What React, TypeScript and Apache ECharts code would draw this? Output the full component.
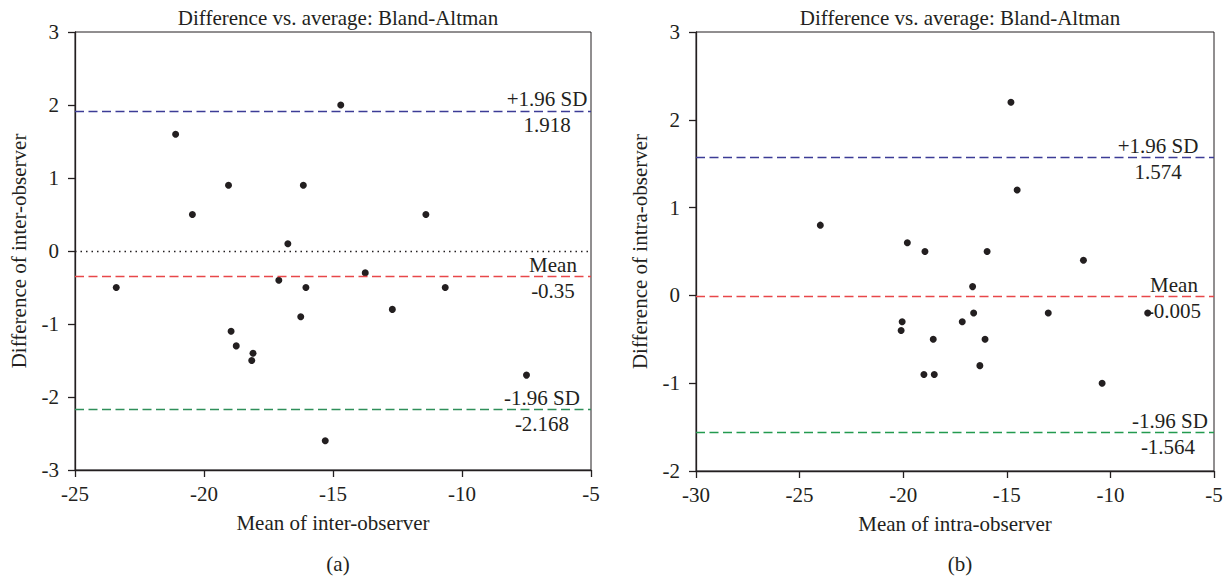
import React, { useEffect, useRef } from "react";
import * as echarts from "echarts";

// (a) inter-observer
const interMean = [-23.4, -21.1, -20.45, -19.05, -16.75, -16.15, -17.1, -16.05, -14.7, -11.4, -13.75, -10.65, -18.95, -18.75, -18.1, -18.15, -16.25, -12.7, -7.5, -15.3];
const interDiff = [-0.5, 1.6, 0.5, 0.9, 0.1, 0.9, -0.4, -0.5, 2.0, 0.5, -0.3, -0.5, -1.1, -1.3, -1.4, -1.5, -0.9, -0.8, -1.7, -2.6];
const interLimits = [1.918, -0.35, -2.168];

// (b) intra-observer
const intraMean = [-24.0, -19.8, -18.95, -14.8, -14.5, -15.95, -11.3, -16.65, -20.05, -20.1, -19.0, -18.5, -16.6, -13.0, -8.2, -17.15, -18.55, -16.05, -16.3, -10.4];
const intraDiff = [0.8, 0.6, 0.5, 2.2, 1.2, 0.5, 0.4, 0.1, -0.3, -0.4, -0.9, -0.9, -0.2, -0.2, -0.2, -0.3, -0.5, -0.5, -0.8, -1.0];
const intraLimits = [1.574, -0.005, -1.564];

const limitNames = ["+1.96 SD", "Mean", "-1.96 SD"];
const interRangeX = [-25, -5];
const intraRangeX = [-30, -5];
const interRangeY = [-3, 3];
const intraRangeY = [-2, 3];

const FONT = "Liberation Serif";
const FS = 21;
const INK = "#231f20";

export default function App() {
  const ref = useRef<HTMLDivElement>(null);
  useEffect(() => {
    if (!ref.current) return;
    const chart = echarts.init(ref.current, null, { renderer: "svg" });
    const txt = { fontFamily: FONT, fontSize: FS, color: INK };

    const limitLines = (limits: number[], colors: string[], dists: number[][]) => {
      const data: any[] = [];
      limits.forEach((v, i) => {
        data.push({
          yAxis: v,
          lineStyle: { color: colors[i], type: [9, 4.5], width: 1.3, opacity: 1 },
          label: {
            show: true,
            position: "insideEndTop",
            formatter: limitNames[i],
            align: "center",
            distance: [dists[i][0], 1],
            ...txt,
          },
        });
        data.push({
          yAxis: v,
          lineStyle: { color: "rgba(0,0,0,0)", width: 0 },
          label: {
            show: true,
            position: "insideEndBottom",
            formatter: String(v),
            align: "center",
            distance: [dists[i][1], 4],
            ...txt,
          },
        });
      });
      return data;
    };

    const xAxisBase = (range: number[], name: string, gridIndex: number) => ({
      type: "value",
      gridIndex,
      min: range[0],
      max: range[1],
      interval: 5,
      name,
      nameLocation: "middle",
      nameGap: 42,
      nameTextStyle: txt,
      axisLine: { show: true, onZero: false, lineStyle: { color: INK, width: 1.3 } },
      axisTick: { show: true, inside: false, length: 7, lineStyle: { color: INK, width: 1.3 } },
      axisLabel: { ...txt, margin: 13 },
      splitLine: { show: false },
    });
    const yAxisBase = (range: number[], name: string, gridIndex: number) => ({
      type: "value",
      gridIndex,
      min: range[0],
      max: range[1],
      interval: 1,
      name,
      nameLocation: "middle",
      nameGap: 46,
      nameTextStyle: txt,
      axisLine: { show: true, onZero: false, lineStyle: { color: INK, width: 1.3 } },
      axisTick: { show: true, inside: false, length: 7, lineStyle: { color: INK, width: 1.3 } },
      axisLabel: { ...txt, margin: 16 },
      splitLine: { show: false },
    });

    const tstyle = { ...txt, fontWeight: "normal" as const };

    chart.setOption({
      animation: false,
      backgroundColor: "#ffffff",
      title: [
        { text: "Difference vs. average: Bland-Altman", left: 333, top: 2, textAlign: "center", textStyle: tstyle },
        { text: "Difference vs. average: Bland-Altman", left: 955, top: 2, textAlign: "center", textStyle: tstyle },
        { text: "(a)", left: 333, top: 548, textAlign: "center", textStyle: tstyle },
        { text: "(b)", left: 955, top: 548, textAlign: "center", textStyle: tstyle },
      ],
      grid: [
        { left: 75, top: 32, width: 516, height: 438, show: true, borderColor: INK, borderWidth: 1, backgroundColor: "transparent" },
        { left: 696, top: 32, width: 518, height: 439, show: true, borderColor: INK, borderWidth: 1, backgroundColor: "transparent" },
      ],
      xAxis: [
        xAxisBase(interRangeX, "Mean of inter-observer", 0),
        xAxisBase(intraRangeX, "Mean of intra-observer", 1),
      ],
      yAxis: [
        yAxisBase(interRangeY, "Difference of inter-observer", 0),
        yAxisBase(intraRangeY, "Difference of intra-observer", 1),
      ],
      series: [
        {
          type: "scatter",
          xAxisIndex: 0,
          yAxisIndex: 0,
          symbolSize: 7,
          itemStyle: { color: INK, opacity: 1 },
          data: interMean.map((x, i) => [x, interDiff[i]]),
          markLine: {
            silent: true,
            symbol: ["none", "none"],
            data: [
              { yAxis: 0, lineStyle: { color: INK, type: [1.5, 4], width: 1.3 }, label: { show: false } },
              ...limitLines(interLimits, ["#3c3c96", "#e8474a", "#2f8f5a"], [[44, 44], [38, 38], [49, 49]]),
            ],
          },
        },
        {
          type: "scatter",
          xAxisIndex: 1,
          yAxisIndex: 1,
          symbolSize: 7,
          itemStyle: { color: INK, opacity: 1 },
          data: intraMean.map((x, i) => [x, intraDiff[i]]),
          markLine: {
            silent: true,
            symbol: ["none", "none"],
            data: limitLines(intraLimits, ["#3c3c96", "#e8474a", "#239a4f"], [[56, 56], [40, 40], [44, 46]]),
          },
        },
      ],
    });
    return () => chart.dispose();
  }, []);
  return <div ref={ref} style={{ position: "absolute", left: 0, top: 0, width: 1229, height: 578 }} />;
}
